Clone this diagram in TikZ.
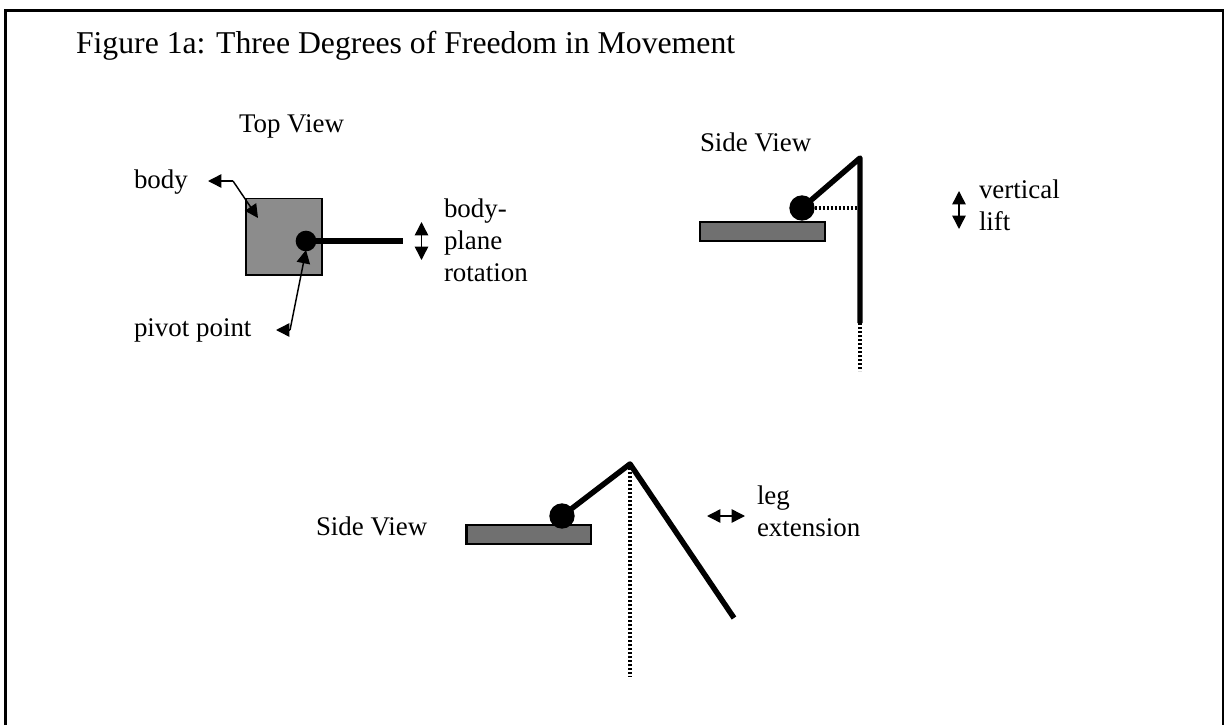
\documentclass[tikz,border=0pt]{standalone}
\usepackage{fontspec}
\setmainfont{Liberation Serif}
\usetikzlibrary{arrows.meta}
\tikzset{
  every node/.style={inner sep=0pt,outer sep=0pt,anchor=base west},
  lab/.style={font=\fontsize{20.2}{24}\selectfont,align=left},
  title/.style={font=\fontsize{23.8}{28}\selectfont},
  bodybox/.style={draw=black,line width=1.7pt,anchor=north west},
  pivot/.style={circle,fill=black,draw=none,minimum size=#1,anchor=center},
  limb/.style={line width=4.1pt,line cap=butt,line join=round},
  dots/.style={line width=2.3pt,dash pattern=on 1.6pt off 1.4pt},
  thin arrow/.style={line width=1.1pt,-{Triangle[length=10pt,width=10pt]}},
  dbl/.style={line width=1.1pt,{Triangle[length=10pt,width=10pt]}-{Triangle[length=10pt,width=10pt]}}
}
\definecolor{squaregray}{RGB}{140,140,140}
\definecolor{bargray}{RGB}{112,112,112}
\begin{document}
\begin{tikzpicture}[x=0.75pt,y=-0.75pt]
\useasboundingbox (0,0) rectangle (1225,725);
\fill[white] (0,0) rectangle (1225,725);
\draw[line width=1.9pt] (5.5,725) -- (5.5,10.5) -- (1223,10.5) -- (1223,725);
\node[title] (ttl) at (76,53) {Figure 1a: Three Degrees of Freedom in Movement};
% top view
\node[lab] (tv) at (239,132) {Top View};
\node[lab] (bd) at (134,188) {body};
\node[lab] (pp) at (134,336) {pivot point};
\node[lab] (t1) at (444,217) {body-};
\node[lab] (t2) at (444,249) {plane};
\node[lab] (t3) at (444,281) {rotation};
\node[bodybox,fill=squaregray,line width=1.4pt,minimum width=57pt,minimum height=57.5pt] (sq) at (246,198.5) {};
\coordinate (p1) at (306,241);
\coordinate (l1) at (403,241);
\draw[limb] (p1) -- (l1);
\node[pivot=15.5pt] (pv1) at (p1) {};
\coordinate (b1) at (208,181);
\coordinate (b2) at (233,181);
\coordinate (b3) at (258,218);
\draw[thin arrow] (b2) -- (b1);
\draw[thin arrow] (b2) -- (b3);
\coordinate (c1) at (276,330);
\coordinate (c2) at (290,330);
\coordinate (c3) at (306,250);
\draw[thin arrow] (c2) -- (c1);
\draw[thin arrow] (c2) -- (c3);
\coordinate (u1) at (421.5,222);
\coordinate (u2) at (421.5,260);
\draw[dbl] (u1) -- (u2);
% side view 1
\node[lab] (sv1) at (700,151) {Side View};
\node[lab] (t4) at (979,198) {vertical};
\node[lab] (t5) at (979,230) {lift};
\node[bodybox,fill=bargray,minimum width=93.5pt,minimum height=14.5pt] (bar1) at (700,222) {};
\coordinate (k1) at (860,158);
\coordinate (e1) at (860,323);
\coordinate (e1b) at (860,371);
\coordinate (q1) at (802,208);
\coordinate (m1) at (857,208);
\draw[limb] (q1) -- (k1) -- (e1);
\node[pivot=19pt] (pv2) at (q1) {};
\draw[dots] (pv2.east) -- (m1);
\draw[dots] (e1) -- (e1b);
\coordinate (v1) at (959,191);
\coordinate (v2) at (959,229);
\draw[dbl] (v1) -- (v2);
% side view 2
\node[lab] (sv2) at (316,535) {Side View};
\node[lab] (t6) at (757,504) {leg};
\node[lab] (t7) at (757,536) {extension};
\node[bodybox,fill=bargray,minimum width=93.5pt,minimum height=14.5pt] (bar2) at (466.5,525) {};
\coordinate (k2) at (630,464);
\coordinate (e2) at (734,618);
\coordinate (d2) at (630,677);
\coordinate (q2) at (562,516);
\draw[dots] (k2) -- (d2);
\draw[limb] (q2) -- (k2) -- (e2);
\node[pivot=19pt] (pv3) at (q2) {};
\coordinate (h1) at (707,516);
\coordinate (h2) at (745,516);
\draw[dbl] (h1) -- (h2);
\end{tikzpicture}
\end{document}
